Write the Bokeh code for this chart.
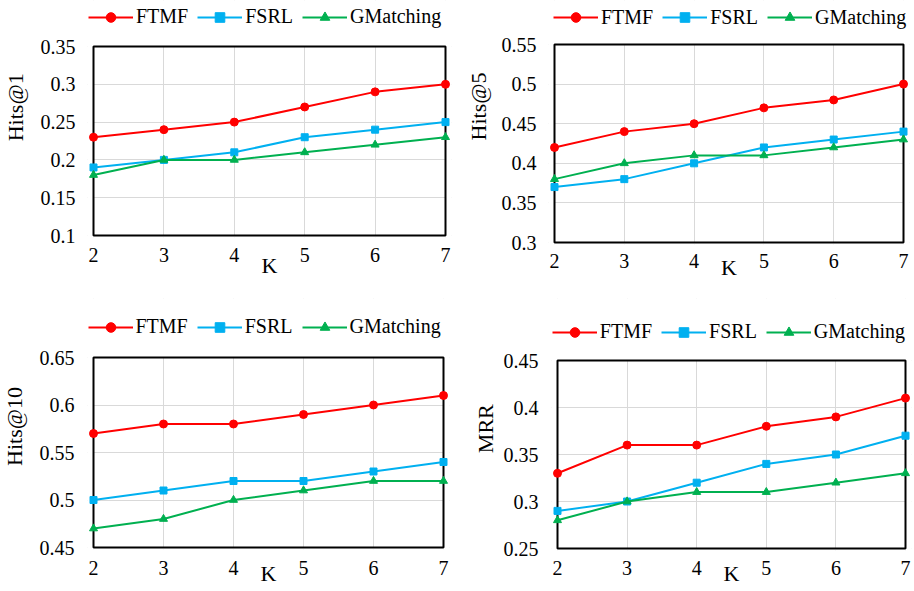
import math
from bokeh.plotting import figure
from bokeh.models import FixedTicker, Range1d, Legend, LegendItem, BoxAnnotation, Label
from bokeh.layouts import column, row
from bokeh.embed import file_html
from bokeh.resources import INLINE

# ---------------- data ----------------
k_values = [2, 3, 4, 5, 6, 7]
k_tick_labels = ["2", "3", "4", "5", "6", "7"]
x_title = "K"
series_names = ["FTMF", "FSRL", "GMatching"]

hits1_ftmf = [0.23, 0.24, 0.25, 0.27, 0.29, 0.30]
hits1_fsrl = [0.19, 0.20, 0.21, 0.23, 0.24, 0.25]
hits1_gm = [0.18, 0.20, 0.20, 0.21, 0.22, 0.23]
hits1_ticks = [0.1, 0.15, 0.2, 0.25, 0.3, 0.35]
hits1_tick_labels = ["0.1", "0.15", "0.2", "0.25", "0.3", "0.35"]

hits5_ftmf = [0.42, 0.44, 0.45, 0.47, 0.48, 0.50]
hits5_fsrl = [0.37, 0.38, 0.40, 0.42, 0.43, 0.44]
hits5_gm = [0.38, 0.40, 0.41, 0.41, 0.42, 0.43]
hits5_ticks = [0.3, 0.35, 0.4, 0.45, 0.5, 0.55]
hits5_tick_labels = ["0.3", "0.35", "0.4", "0.45", "0.5", "0.55"]

hits10_ftmf = [0.57, 0.58, 0.58, 0.59, 0.60, 0.61]
hits10_fsrl = [0.50, 0.51, 0.52, 0.52, 0.53, 0.54]
hits10_gm = [0.47, 0.48, 0.50, 0.51, 0.52, 0.52]
hits10_ticks = [0.45, 0.5, 0.55, 0.6, 0.65]
hits10_tick_labels = ["0.45", "0.5", "0.55", "0.6", "0.65"]

mrr_ftmf = [0.33, 0.36, 0.36, 0.38, 0.39, 0.41]
mrr_fsrl = [0.29, 0.30, 0.32, 0.34, 0.35, 0.37]
mrr_gm = [0.28, 0.30, 0.31, 0.31, 0.32, 0.33]
mrr_ticks = [0.25, 0.3, 0.35, 0.4, 0.45]
mrr_tick_labels = ["0.25", "0.3", "0.35", "0.4", "0.45"]

# ---------------- styles ----------------
COLORS = ["#FF0000", "#00B0F0", "#00B050"]
MARKERS = ["circle", "square", "triangle"]
MSIZES = [8, 7, 8]
FONT = "Liberation Serif"
PADX = 6      # px of frame padding left/right so edge markers are not clipped
PADB = 2      # px of frame padding below the plot area


def make_panel(series, ticks, tick_labels, g):
    ymin, ymax = ticks[0], ticks[-1]
    xmin, xmax = k_values[0], k_values[-1]
    upp = (ymax - ymin) / g["box_h"]          # data units per pixel (y)
    px = PADX * (xmax - xmin) / g["box_w"]
    xr = Range1d(xmin - px, xmax + px)
    yr = Range1d(ymin - PADB * upp, ymax + g["padt"] * upp)
    p = figure(frame_width=g["box_w"] + 2 * PADX,
               frame_height=g["box_h"] + PADB + g["padt"],
               min_border_left=g["l"], min_border_top=0,
               min_border_right=g["r"], min_border_bottom=g["b"],
               x_range=xr, y_range=yr, title=None,
               toolbar_location=None, output_backend="svg")
    p.outline_line_color = None
    p.background_fill_color = "white"
    p.border_fill_color = "white"

    for ax in (p.xaxis, p.yaxis):
        ax.axis_line_color = None
        ax.major_tick_line_color = None
        ax.minor_tick_line_color = None
        ax.major_tick_out = 0
        ax.major_tick_in = 0
        ax.major_label_text_font = FONT
        ax.major_label_text_font_size = "20px"
        ax.major_label_text_color = "black"
    p.xaxis.ticker = FixedTicker(ticks=k_values)
    p.xaxis.major_label_overrides = dict(zip(k_values, k_tick_labels))
    p.yaxis.ticker = FixedTicker(ticks=ticks)
    p.yaxis.major_label_overrides = dict(zip(ticks, tick_labels))
    p.xaxis.major_label_standoff = g["xs"]
    p.yaxis.major_label_standoff = g["ys"]
    p.xaxis.axis_label = x_title
    p.xaxis.axis_label_standoff = g["xls"]
    p.xaxis.axis_label_text_font = FONT
    p.xaxis.axis_label_text_font_size = "22px"
    p.xaxis.axis_label_text_font_style = "normal"
    p.xaxis.axis_label_text_color = "black"

    p.xgrid.ticker = FixedTicker(ticks=k_values)
    p.ygrid.ticker = FixedTicker(ticks=ticks)
    for gr in (p.xgrid, p.ygrid):
        gr.grid_line_color = "#D9D9D9"
        gr.grid_line_width = 1

    # white covers over the padding, then the black plot-area border
    covers = [
        dict(left=xr.start, right=xmin, bottom=yr.start, top=yr.end),
        dict(left=xmax, right=xr.end, bottom=yr.start, top=yr.end),
        dict(left=xr.start, right=xr.end, bottom=yr.start, top=ymin),
        dict(left=xr.start, right=xr.end, bottom=ymax, top=yr.end),
    ]
    for c in covers:
        p.add_layout(BoxAnnotation(**c, fill_color="white", fill_alpha=1,
                                   line_color=None, line_alpha=0, level="underlay"))
    p.add_layout(BoxAnnotation(left=xmin, right=xmax, bottom=ymin, top=ymax,
                               fill_color=None, fill_alpha=0, line_color="black",
                               line_alpha=1, line_width=2, level="underlay"))

    items = []
    for name, ys, col, mk, ms in zip(series_names, series, COLORS, MARKERS, MSIZES):
        lr = p.line(k_values, ys, line_color=col, line_width=2)
        sr = p.scatter(k_values, ys, marker=mk, size=ms, fill_color=col,
                       line_color=col, line_width=1)
        items.append(LegendItem(label=name, renderers=[lr, sr]))

    legend = Legend(items=items, location=g["leg"], orientation="horizontal",
                    glyph_width=45, glyph_height=24, label_height=24,
                    label_standoff=3, spacing=9, padding=0, margin=0,
                    border_line_color=None, background_fill_alpha=0,
                    label_text_font=FONT, label_text_font_size="20px",
                    label_text_color="black")
    p.add_layout(legend)
    return p


def make_title_strip(text, w, h, pos):
    """Narrow figure holding the rotated y-axis title (text starts at pos, reads upward)."""
    s = figure(width=w, height=h, x_range=Range1d(0, w), y_range=Range1d(0, h),
               min_border=0, x_axis_location=None, y_axis_location=None,
               title=None, toolbar_location=None, output_backend="svg")
    s.outline_line_color = None
    s.background_fill_color = "white"
    s.border_fill_color = "white"
    s.xgrid.visible = False
    s.ygrid.visible = False
    s.add_layout(Label(x=pos[0], y=pos[1], text=text, angle=math.pi / 2,
                       text_align="left", text_baseline="middle",
                       text_font=FONT, text_font_size="22px", text_color="black"))
    return s


# layout geometry (px): plot-area box size, borders, standoffs, legend offset
g1 = dict(l=51, r=7, b=61, box_w=352, box_h=189, padt=46, ys=12, xs=10,
          xls=-12, leg=(1, 208.5))
g2 = dict(l=53, r=3, b=54, box_w=349, box_h=198, padt=44, ys=12, xs=9,
          xls=-16, leg=(5, 214.7))
g3 = dict(l=51, r=9, b=42, box_w=350, box_h=190, padt=59, ys=13, xs=11,
          xls=-17, leg=(0.5, 210.3))
g4 = dict(l=53, r=1, b=41, box_w=348, box_h=188, padt=62, ys=13, xs=10,
          xls=-17, leg=(0.8, 206.3))

p1 = make_panel([hits1_ftmf, hits1_fsrl, hits1_gm], hits1_ticks, hits1_tick_labels, g1)
p2 = make_panel([hits5_ftmf, hits5_fsrl, hits5_gm], hits5_ticks, hits5_tick_labels, g2)
p3 = make_panel([hits10_ftmf, hits10_fsrl, hits10_gm], hits10_ticks, hits10_tick_labels, g3)
p4 = make_panel([mrr_ftmf, mrr_fsrl, mrr_gm], mrr_ticks, mrr_tick_labels, g4)

s1 = make_title_strip("Hits@1", 36, 298, (15.2, 121))
s2 = make_title_strip("Hits@5", 37, 298, (19.6, 122))
s3 = make_title_strip("Hits@10", 36, 293, (14.1, 97.5))
s4 = make_title_strip("MRR", 40, 293, (27.4, 112.5))

layout = column(row(s1, p1, s2, p2, spacing=0),
                row(s3, p3, s4, p4, spacing=0), spacing=0)

with open("out.html", "w") as f:
    f.write(file_html(layout, INLINE))
